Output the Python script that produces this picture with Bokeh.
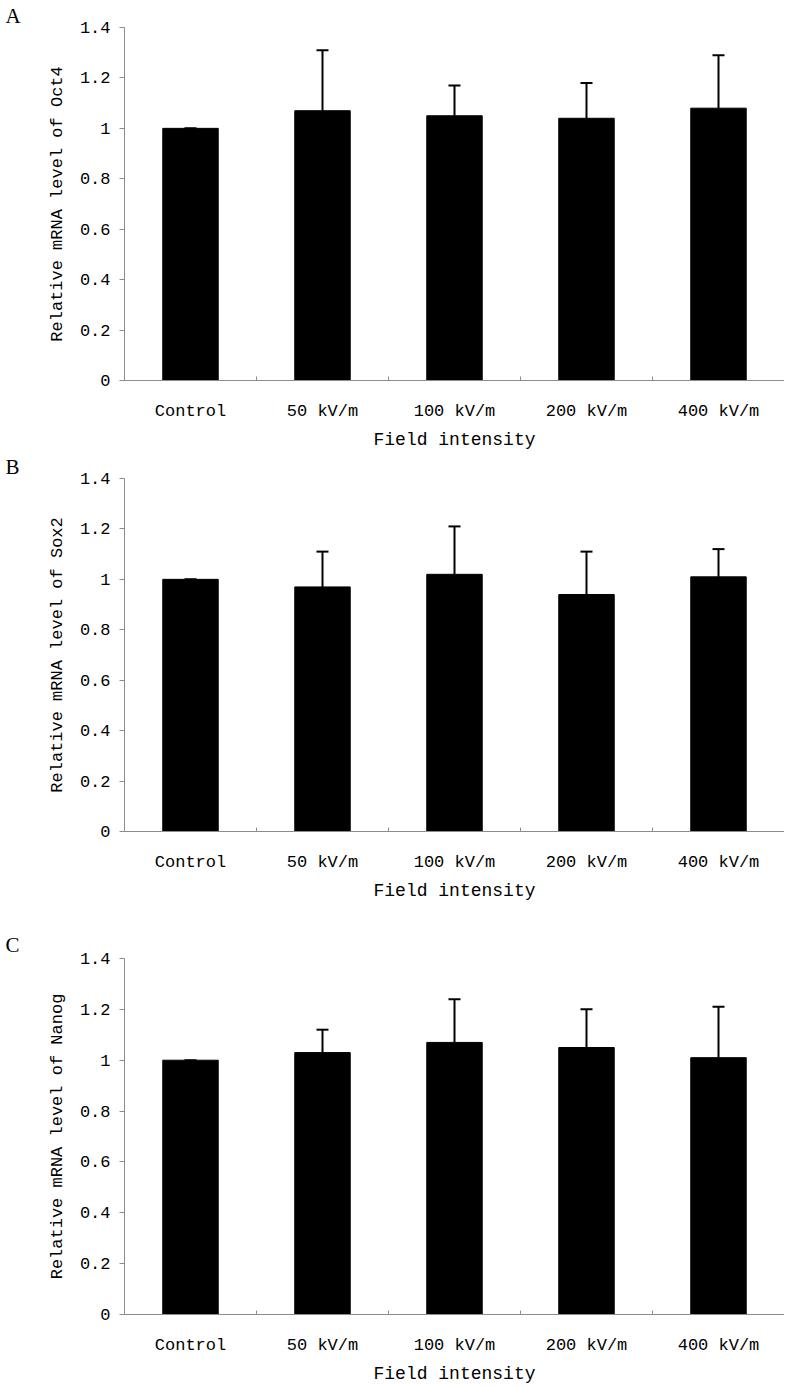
from bokeh.plotting import figure
from bokeh.models import ColumnDataSource, Range1d, FixedTicker, Whisker, TeeHead
from bokeh.layouts import column
from bokeh.embed import file_html
from bokeh.resources import INLINE

categories = ["Control", "50 kV/m", "100 kV/m", "200 kV/m", "400 kV/m"]

oct4_mean = [1.00, 1.07, 1.05, 1.04, 1.08]
oct4_upper = [1.00, 1.31, 1.17, 1.18, 1.29]

sox2_mean = [1.00, 0.97, 1.02, 0.94, 1.01]
sox2_upper = [1.00, 1.11, 1.21, 1.11, 1.12]

nanog_mean = [1.00, 1.03, 1.07, 1.05, 1.01]
nanog_upper = [1.00, 1.12, 1.24, 1.20, 1.21]

y_ticks = [0, 0.2, 0.4, 0.6, 0.8, 1.0, 1.2, 1.4]
y_tick_labels = ["0", "0.2", "0.4", "0.6", "0.8", "1", "1.2", "1.4"]

panels = [
    ("A", "Relative mRNA level of Oct4", oct4_mean, oct4_upper),
    ("B", "Relative mRNA level of Sox2", sox2_mean, sox2_upper),
    ("C", "Relative mRNA level of Nanog", nanog_mean, nanog_upper),
]

MONO = "Liberation Mono"
FS = "17px"
AXIS_COLOR = "#8c8c8c"
LEFT = 124

# per-panel layout (figure height, border top, border bottom, title standoff)
geoms = [(452, 27, 70, 0), (451, 25, 70, 0), (484, 55, 73, 4)]

figs = []
for (letter, ylabel, mean, upper), (fig_h, btop, bbot, tstand) in zip(panels, geoms):
    n = len(categories)
    xs = [i + 0.5 for i in range(n)]
    src = ColumnDataSource(dict(x=xs, top=mean, upper=upper))
    p = figure(output_backend="svg", toolbar_location=None,
               width=LEFT + 660, height=fig_h,
               min_border_left=LEFT, min_border_right=0,
               min_border_top=btop, min_border_bottom=bbot,
               x_range=Range1d(0, n), y_range=Range1d(0, 1.4),
               title=letter)
    p.outline_line_color = None
    p.xgrid.visible = False
    p.ygrid.visible = False
    p.background_fill_color = "white"
    p.border_fill_color = "white"

    p.title.align = "left"
    p.title.offset = -(LEFT - 5)
    p.title.standoff = tstand
    p.title.text_font = "Liberation Serif"
    p.title.text_font_size = "21px"
    p.title.text_font_style = "normal"
    p.title.text_color = "black"

    p.vbar(x="x", top="top", width=0.42, bottom=0, source=src,
           fill_color="black", line_color="black")
    w = Whisker(source=src, base="x", lower="top", upper="upper",
                line_color="black", line_width=2,
                upper_head=TeeHead(size=12, line_color="black", line_width=2),
                lower_head=None)
    p.add_layout(w)

    xa = p.xaxis[0]
    xa.ticker = FixedTicker(ticks=xs, minor_ticks=list(range(n + 1)))
    xa.major_label_overrides = {x: c for x, c in zip(xs, categories)}
    xa.major_tick_line_color = None
    xa.minor_tick_line_color = AXIS_COLOR
    xa.minor_tick_in = 4
    xa.minor_tick_out = 0
    xa.axis_line_color = AXIS_COLOR
    xa.major_label_text_font = MONO
    xa.major_label_text_font_size = FS
    xa.major_label_text_color = "black"
    xa.major_label_standoff = 15
    xa.axis_label = "Field intensity"
    xa.axis_label_text_font = MONO
    xa.axis_label_text_font_size = "18px"
    xa.axis_label_text_font_style = "normal"
    xa.axis_label_text_color = "black"
    xa.axis_label_standoff = 6

    ya = p.yaxis[0]
    ya.ticker = FixedTicker(ticks=y_ticks)
    ya.major_label_overrides = {t: l for t, l in zip(y_ticks, y_tick_labels)}
    ya.major_tick_in = 0
    ya.major_tick_out = 5
    ya.major_tick_line_color = AXIS_COLOR
    ya.minor_tick_line_color = None
    ya.axis_line_color = AXIS_COLOR
    ya.major_label_text_font = MONO
    ya.major_label_text_font_size = FS
    ya.major_label_text_color = "black"
    ya.major_label_standoff = 9
    ya.axis_label = ylabel
    ya.axis_label_text_font = MONO
    ya.axis_label_text_font_size = FS
    ya.axis_label_text_font_style = "normal"
    ya.axis_label_text_color = "black"
    ya.axis_label_standoff = 10

    figs.append(p)

layout = column(*figs, spacing=0)
open("out.html", "w").write(file_html(layout, INLINE))
